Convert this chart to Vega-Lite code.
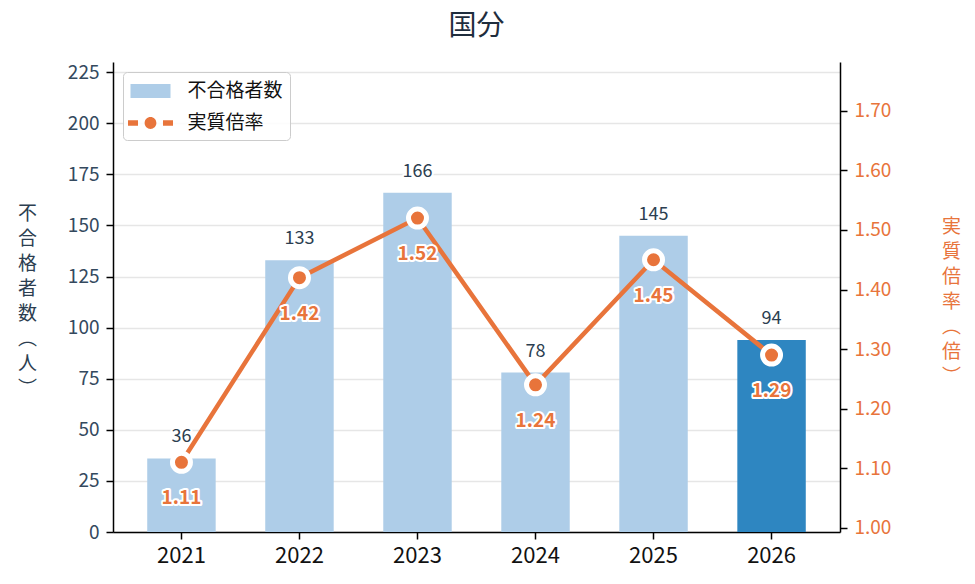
{
  "$schema": "https://vega.github.io/schema/vega-lite/v6.json",
  "autosize": {"type": "none"},
  "padding": {"left": 113, "top": 62, "right": 135, "bottom": 52},
  "width": 727,
  "height": 470,
  "title": {
    "text": "国分",
    "anchor": "middle",
    "fontSize": 28,
    "fontWeight": "normal",
    "color": "#1f2d3d",
    "offset": 21
  },
  "config": {
    "font": "Noto Sans CJK JP",
    "view": {"stroke": null}
  },
  "data": {
    "values": [
      {"year": "2021", "count": 36, "rate": 1.11},
      {"year": "2022", "count": 133, "rate": 1.42},
      {"year": "2023", "count": 166, "rate": 1.52},
      {"year": "2024", "count": 78, "rate": 1.24},
      {"year": "2025", "count": 145, "rate": 1.45},
      {"year": "2026", "count": 94, "rate": 1.29}
    ]
  },
  "layer": [
    {
      "encoding": {
        "x": {
          "field": "year",
          "type": "ordinal",
          "scale": {"paddingInner": 0.42, "paddingOuter": 0.29},
          "axis": {
            "title": null,
            "labelAngle": 0,
            "labelFontSize": 22,
            "labelColor": "#111111",
            "labelPadding": 6,
            "domainColor": "#000000",
            "domainWidth": 1.5,
            "tickColor": "#000000",
            "tickWidth": 1.5,
            "tickSize": 7
          }
        },
        "y": {
          "field": "count",
          "type": "quantitative",
          "scale": {"domain": [0, 230], "nice": false},
          "axis": {
            "orient": "left",
            "values": [0, 25, 50, 75, 100, 125, 150, 175, 200, 225],
            "grid": true,
            "gridColor": "#e6e6e6",
            "gridWidth": 1.5,
            "domainColor": "#000000",
            "domainWidth": 1.5,
            "tickColor": "#000000",
            "tickWidth": 1.5,
            "tickSize": 7,
            "labelColor": "#34495e",
            "labelFontSize": 19,
            "labelPadding": 7,
            "title": ["不", "合", "格", "者", "数", "︵", "人", "︶"],
            "titleAngle": 0,
            "titleX": -86,
            "titleY": 151,
            "titleAlign": "center",
            "titleBaseline": "middle",
            "titleFontSize": 19,
            "titleFontWeight": "normal",
            "titleColor": "#2c3e50",
            "titleLineHeight": 25
          }
        }
      },
      "layer": [
        {
          "mark": {"type": "bar"},
          "encoding": {
            "color": {
              "condition": {"test": "datum.year === '2026'", "value": "#2e86c1"},
              "value": "#aecde8"
            }
          }
        },
        {
          "mark": {
            "type": "text",
            "dy": -21,
            "baseline": "middle",
            "fontSize": 18,
            "stroke": "#ffffff",
            "strokeWidth": 4,
            "strokeJoin": "round",
            "fill": "#ffffff"
          },
          "encoding": {"text": {"field": "count", "type": "quantitative"}}
        },
        {
          "mark": {
            "type": "text",
            "dy": -21,
            "baseline": "middle",
            "fontSize": 18,
            "fill": "#2c3e50"
          },
          "encoding": {"text": {"field": "count", "type": "quantitative"}}
        }
      ]
    },
    {
      "encoding": {
        "x": {"field": "year", "type": "ordinal"},
        "y": {
          "field": "rate",
          "type": "quantitative",
          "scale": {"domain": [0.993, 1.782], "nice": false, "zero": false},
          "axis": {
            "orient": "right",
            "values": [1.0, 1.1, 1.2, 1.3, 1.4, 1.5, 1.6, 1.7],
            "format": ".2f",
            "grid": false,
            "domainColor": "#000000",
            "domainWidth": 1.5,
            "tickColor": "#000000",
            "tickWidth": 1.5,
            "tickSize": 7,
            "labelColor": "#e8743b",
            "labelFontSize": 19,
            "labelPadding": 7,
            "title": ["実", "質", "倍", "率", "︵", "倍", "︶"],
            "titleAngle": 0,
            "titleX": 111,
            "titleY": 164,
            "titleAlign": "center",
            "titleBaseline": "middle",
            "titleFontSize": 19,
            "titleFontWeight": "normal",
            "titleColor": "#e8743b",
            "titleLineHeight": 25
          }
        }
      },
      "layer": [
        {
          "mark": {"type": "line", "color": "#e8743b", "strokeWidth": 4.5}
        },
        {
          "mark": {
            "type": "point",
            "filled": true,
            "size": 324,
            "fill": "#e8743b",
            "stroke": "#ffffff",
            "strokeWidth": 5,
            "opacity": 1
          }
        },
        {
          "mark": {
            "type": "text",
            "dy": 36,
            "baseline": "middle",
            "fontSize": 19,
            "fontWeight": "bold",
            "stroke": "#ffffff",
            "strokeWidth": 4,
            "strokeJoin": "round",
            "fill": "#ffffff"
          },
          "encoding": {"text": {"field": "rate", "type": "quantitative", "format": ".2f"}}
        },
        {
          "mark": {
            "type": "text",
            "dy": 36,
            "baseline": "middle",
            "fontSize": 19,
            "fontWeight": "bold",
            "fill": "#e8743b"
          },
          "encoding": {"text": {"field": "rate", "type": "quantitative", "format": ".2f"}}
        }
      ]
    },
    {
      "data": {"values": [{"series": "不合格者数"}, {"series": "実質倍率"}]},
      "mark": {"type": "point", "filled": true, "opacity": 0},
      "encoding": {
        "color": {
          "field": "series",
          "type": "nominal",
          "scale": {"domain": ["不合格者数", "実質倍率"], "range": ["#aecde8", "#e8743b"]},
          "legend": {
            "orient": "top-left",
            "offset": 10,
            "title": null,
            "symbolSize": 576,
            "symbolOffset": 8.5,
            "symbolStrokeWidth": 0,
            "symbolOpacity": 1,
            "labelFontSize": 19,
            "labelColor": "#111111",
            "labelOffset": 25,
            "rowPadding": 10,
            "padding": 7,
            "strokeColor": "#cccccc",
            "fillColor": "rgba(255,255,255,0.85)",
            "cornerRadius": 4
          }
        },
        "shape": {
          "field": "series",
          "type": "nominal",
          "scale": {
            "domain": ["不合格者数", "実質倍率"],
            "range": [
              "M-1.667,-0.583H1.667V0.583H-1.667Z",
              "M-1.875,-0.22H-1.04V0.22H-1.875Z M1.04,-0.22H1.875V0.22H1.04Z M0.49,0A0.49,0.49,0,1,1,-0.49,0A0.49,0.49,0,1,1,0.49,0Z"
            ]
          },
          "legend": {
            "orient": "top-left",
            "offset": 10,
            "title": null,
            "symbolSize": 576,
            "symbolOffset": 8.5,
            "symbolStrokeWidth": 0,
            "symbolOpacity": 1,
            "labelFontSize": 19,
            "labelColor": "#111111",
            "labelOffset": 25,
            "rowPadding": 10,
            "padding": 7,
            "strokeColor": "#cccccc",
            "fillColor": "rgba(255,255,255,0.85)",
            "cornerRadius": 4
          }
        }
      }
    }
  ],
  "resolve": {"scale": {"y": "independent"}}
}
